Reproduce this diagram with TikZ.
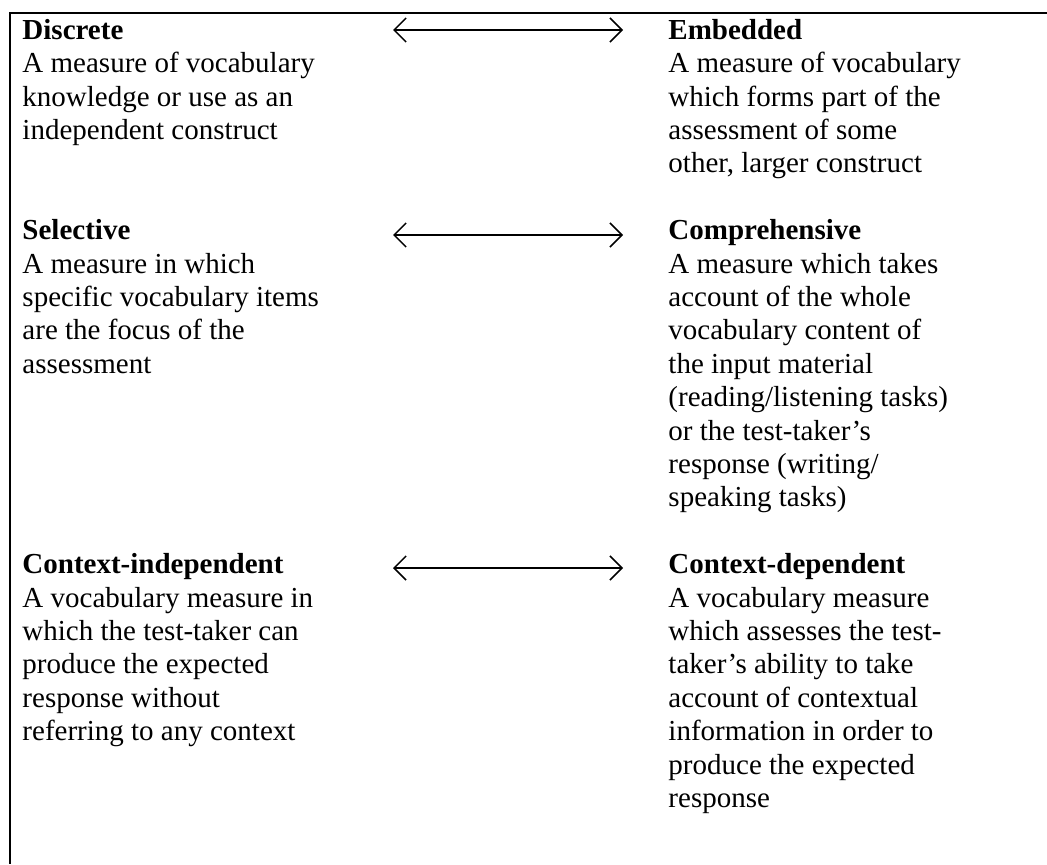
\documentclass[tikz,border=0pt]{standalone}
\usepackage{fontspec}
\setmainfont{Liberation Serif}
\usetikzlibrary{arrows.meta}

% lines of one entry, baseline on the first line
\newcommand{\entrylines}[1]{\begin{tabular}[t]{@{}l@{}}#1\end{tabular}}

\tikzset{
  frame/.style={line width=0.9pt},
  twoway/.style={line width=0.6pt,{Straight Barb[length=5pt,width=10pt]}-{Straight Barb[length=5pt,width=10pt]}},
  entry/.style={anchor=base west,inner sep=0pt,
    font=\fontsize{12}{13.82}\selectfont}
}

\begin{document}
\begin{tikzpicture}[x=0.4138pt,y=-0.4138pt]
	\useasboundingbox (0,0) rectangle (1047,864);
	% open frame, top and left side only
	\draw [frame] (1047,13) -- (10,13) -- (10,864);
	% left column
	\node [entry] (discrete) at (22,39.3) {\entrylines{\textbf{Discrete}\\A measure of vocabulary\\knowledge or use as an\\independent construct}};
	\node [entry] (selective) at (22,239.7) {\entrylines{\textbf{Selective}\\A measure in which\\specific vocabulary items\\are the focus of the\\assessment}};
	\node [entry] (ctxind) at (22,573.7) {\entrylines{\textbf{Context-independent}\\A vocabulary measure in\\which the test-taker can\\produce the expected\\response without\\referring to any context}};
	% right column
	\node [entry] (embedded) at (668,39.3) {\entrylines{\textbf{Embedded}\\A measure of vocabulary\\which forms part of the\\assessment of some\\other, larger construct}};
	\node [entry] (comprehensive) at (668,239.7) {\entrylines{\textbf{Comprehensive}\\A measure which takes\\account of the whole\\vocabulary content of\\the input material\\(reading/listening tasks)\\or the test-taker's\\response (writing/\\speaking tasks)}};
	\node [entry] (ctxdep) at (668,573.7) {\entrylines{\textbf{Context-dependent}\\A vocabulary measure\\which assesses the test-\\taker's ability to take\\account of contextual\\information in order to\\produce the expected\\response}};
	% arrows between the two ends of each dimension
	\coordinate (d1l) at (393,30);
	\coordinate (d1r) at (623,30);
	\coordinate (d2l) at (393,235);
	\coordinate (d2r) at (623,235);
	\coordinate (d3l) at (393,568);
	\coordinate (d3r) at (623,568);
	\draw [twoway] (d1l) -- (d1r);
	\draw [twoway] (d2l) -- (d2r);
	\draw [twoway] (d3l) -- (d3r);
\end{tikzpicture}
\end{document}
